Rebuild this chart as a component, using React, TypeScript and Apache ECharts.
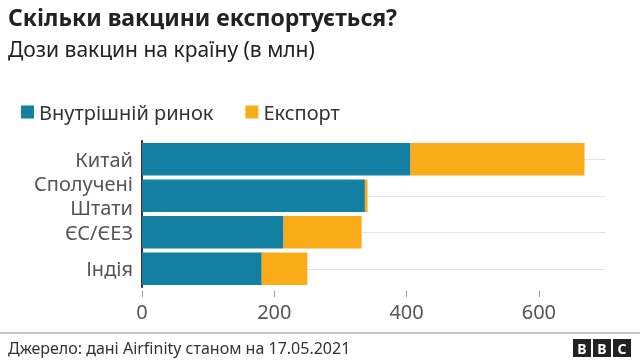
import React, { useEffect, useRef } from "react";
import * as echarts from "echarts";

const categories = ["Китай", "Сполучені\nШтати", "ЄС/ЄЕЗ", "Індія"];
const domestic = [406, 337, 214, 181];
const exported = [263, 4, 118, 69];
const xTicks = [0, 200, 400, 600];
const seriesNames = ["Внутрішній ринок", "Експорт"];
const titleText = "Скільки вакцини експортується?";
const subtitleText = "Дози вакцин на країну (в млн)";
const sourceText = "Джерело: дані Airfinity станом на 17.05.2021";

const FONT = "'Noto Sans', 'DejaVu Sans', sans-serif";

export default function App() {
  const ref = useRef<HTMLDivElement>(null);
  useEffect(() => {
    document.body.style.margin = "0";
    const chart = echarts.init(ref.current!, null, { renderer: "svg" });
    const logo = ["B", "B", "C"].map((ch, i) => ({
      type: "group",
      x: 573 + i * 20,
      y: 339,
      children: [
        { type: "rect", shape: { x: 0, y: 0, width: 18, height: 18 }, style: { fill: "#222" } },
        {
          type: "text",
          x: 9,
          y: 9.5,
          style: { text: ch, fill: "#fff", font: `bold 14px ${FONT}`, align: "center", verticalAlign: "middle" },
        },
      ],
    }));
    chart.setOption({
      animation: false,
      textStyle: { fontFamily: FONT },
      graphic: [
        { type: "text", x: 8, y: 5, style: { text: titleText, fill: "#222", font: `bold 23px ${FONT}` } },
        { type: "text", x: 8, y: 38, style: { text: subtitleText, fill: "#222", font: `21px ${FONT}` } },
        { type: "line", shape: { x1: 0, y1: 333, x2: 640, y2: 333 }, style: { stroke: "#888", lineWidth: 1 } },
        { type: "text", x: 8, y: 340, style: { text: sourceText, fill: "#333", font: `16px ${FONT}` } },
        ...logo,
      ],
      legend: {
        left: 16,
        top: 97,
        icon: "rect",
        itemWidth: 13,
        itemHeight: 13,
        itemGap: 32,
        data: seriesNames,
        textStyle: { fontSize: 20, color: "#333", fontFamily: FONT },
      },
      grid: { left: 142, right: 35, top: 141, bottom: 76 },
      xAxis: {
        type: "value",
        min: 0,
        max: 700,
        interval: 200,
        offset: 4,
        axisLine: { show: false },
        splitLine: { show: false },
        axisTick: { show: true, length: 6, customValues: xTicks, lineStyle: { color: "#999", width: 1 } },
        axisLabel: { customValues: xTicks, fontSize: 20, color: "#555", margin: 10, fontFamily: FONT },
      },
      yAxis: {
        type: "category",
        inverse: true,
        data: categories,
        axisTick: { show: false },
        axisLine: { show: true, lineStyle: { color: "#333", width: 2 } },
        axisLabel: { fontSize: 20, color: "#555", margin: 9, lineHeight: 24, fontFamily: FONT },
      },
      series: [
        {
          name: seriesNames[0],
          type: "bar",
          stack: "total",
          data: domestic,
          barCategoryGap: "11%",
          itemStyle: { color: "#1380A1" },
          z: 3,
          markLine: {
            silent: true,
            z: 1,
            symbol: ["none", "none"],
            label: { show: false },
            lineStyle: { color: "#e3e3e3", width: 1, type: "solid" },
            data: categories.map((c) => ({ yAxis: c })),
          },
        },
        {
          name: seriesNames[1],
          type: "bar",
          stack: "total",
          data: exported,
          barCategoryGap: "11%",
          itemStyle: { color: "#FAAB18" },
          z: 3,
        },
      ],
    });
    return () => chart.dispose();
  }, []);
  return <div ref={ref} style={{ position: "fixed", left: 0, top: 0, width: 640, height: 363 }} />;
}
